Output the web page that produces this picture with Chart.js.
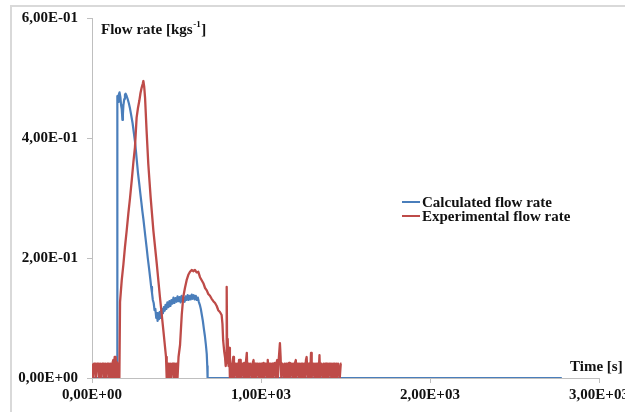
<!DOCTYPE html>
<html>
<head>
<meta charset="utf-8">
<script src="https://cdn.jsdelivr.net/npm/chart.js@4"></script>
<style>
html,body{margin:0;padding:0;overflow:hidden;background:#fff;width:625px;height:412px;}
#wrap{position:absolute;left:0;top:0;width:640px;height:412px;}
</style>
</head>
<body>
<div id="wrap"><canvas id="c" width="640" height="412"></canvas></div>
<script>
// ---- data ----
const seriesLabels = ['Calculated flow rate', 'Experimental flow rate'];
const yTickLabels = ['0,00E+00', '2,00E-01', '4,00E-01', '6,00E-01'];
const xTickLabels = ['0,00E+00', '1,00E+03', '2,00E+03', '3,00E+03'];
const yAxisTitle = 'Flow rate [kgs';
const yAxisTitleSup = '-1';
const xAxisTitle = 'Time [s]';

const calcTime = [0,148,150,154,158,163,168,172,176,180,183,186,191,195,199,205,211,218,225,232,240,247,254,260,266,272,279,285,292,298,304,310,316,323,330,338,345,350,355,360,365,370,375,380,385,388,392,396,400,404,408,412,416,420,425,430,435,440,446,452,458,464,470,476,482,488,494,500,506,512,518,524,530,536,542,548,554,560,566,572,578,584,590,596,602,608,614,620,626,632,638,644,650,656,662,668,674,679,682,684,2780];
const calcFlow = [0,0,0.47,0.46,0.472,0.476,0.468,0.455,0.448,0.43,0.44,0.455,0.465,0.472,0.474,0.47,0.465,0.458,0.449,0.438,0.425,0.41,0.395,0.378,0.36,0.342,0.325,0.31,0.293,0.278,0.265,0.25,0.235,0.218,0.2,0.182,0.165,0.152,0.142,0.13,0.125,0.113,0.115,0.1,0.108,0.095,0.106,0.098,0.11,0.1,0.112,0.104,0.115,0.108,0.118,0.112,0.122,0.115,0.126,0.118,0.128,0.12,0.13,0.124,0.134,0.125,0.133,0.127,0.136,0.128,0.135,0.126,0.137,0.128,0.134,0.127,0.136,0.13,0.138,0.13,0.137,0.131,0.139,0.132,0.138,0.131,0.137,0.13,0.134,0.127,0.122,0.115,0.105,0.095,0.082,0.07,0.055,0.04,0.02,0,0];

const expTime = [0,8,12,20,24,30,38,42,48,56,60,68,72,78,86,90,98,102,108,116,120,126,130,134,140,144,148,154,158,162,166,176,186,195,205,215,225,235,245,254,264,272,280,287,294,300,304,309,314,323,333,347,363,383,402,422,438,442,446,452,456,462,468,474,480,484,490,496,500,506,512,521,531,540,550,560,570,580,590,599,609,619,629,639,649,659,669,679,688,698,708,718,728,738,747,757,767,772,776,782,787,791,794,797,800,803,808,812,816,820,826,830,836,840,846,850,856,860,866,870,876,880,886,890,896,900,906,910,916,920,926,930,936,940,946,950,956,960,966,970,976,980,986,990,996,1000,1006,1010,1016,1020,1026,1030,1036,1040,1046,1050,1056,1060,1066,1070,1076,1080,1086,1090,1096,1100,1106,1112,1116,1120,1126,1130,1136,1140,1146,1150,1156,1160,1166,1170,1176,1180,1186,1190,1196,1200,1206,1210,1216,1220,1226,1230,1236,1240,1246,1250,1256,1260,1266,1270,1276,1280,1286,1290,1296,1300,1306,1310,1316,1320,1326,1330,1336,1340,1346,1350,1356,1360,1366,1370,1376,1380,1386,1390,1396,1400,1406,1410,1416,1420,1426,1430,1436,1440,1446,1450,1456,1460,1466,1472,1476];
const expFlow = [0.024,0,0.024,0.024,0,0.024,0.024,0,0.024,0,0.024,0.024,0,0.024,0,0.024,0.024,0,0.024,0,0.024,0.03,0,0.035,0.035,0,0.026,0,0.024,0,0.127,0.163,0.19,0.218,0.245,0.274,0.3,0.329,0.36,0.384,0.434,0.45,0.462,0.475,0.484,0.49,0.495,0.485,0.467,0.412,0.357,0.301,0.246,0.191,0.135,0.08,0.035,0,0.024,0.024,0,0.024,0,0.024,0.024,0,0.024,0,0.024,0,0.035,0.055,0.105,0.135,0.15,0.163,0.172,0.177,0.18,0.178,0.18,0.176,0.177,0.168,0.163,0.158,0.15,0.146,0.14,0.137,0.132,0.128,0.125,0.12,0.113,0.11,0.105,0.09,0.063,0.045,0.035,0.02,0.025,0.152,0.03,0.065,0.02,0.05,0,0.024,0,0.024,0.035,0,0.024,0.024,0,0.024,0,0.03,0.03,0,0.024,0.024,0,0.025,0,0.024,0.042,0,0.024,0,0.024,0.024,0,0.024,0.03,0,0.024,0,0.024,0.024,0,0.024,0,0.024,0.024,0,0.025,0,0.024,0.024,0,0.03,0,0.024,0.024,0,0.024,0,0.024,0.025,0,0.024,0.03,0,0.035,0.058,0.035,0,0.024,0.024,0,0.024,0,0.024,0.024,0,0.025,0,0.024,0.024,0,0.024,0,0.024,0.03,0,0.024,0.024,0,0.024,0,0.024,0.024,0,0.024,0,0.03,0.035,0,0.024,0.024,0,0.042,0,0.024,0.024,0,0.024,0,0.024,0.024,0,0.038,0,0.024,0.024,0,0.024,0,0.024,0.024,0,0.024,0,0.024,0.024,0,0.024,0,0.024,0.024,0,0.024,0,0.024,0.024,0,0.024,0.024];

const colors = ['#4a7ebb', '#be4b48'];
// ----------------------------------------------

function pts(xs, ys) { return xs.map((x, i) => ({x: x, y: ys[i]})); }

const FONT = "'Liberation Serif', 'Times New Roman', serif";
const AXIS = '#bfbfbf';

const framePlugin = {
  id: 'frame',
  beforeDraw(chart) {
    const ctx = chart.ctx;
    ctx.save();
    ctx.fillStyle = '#ffffff';
    ctx.fillRect(0, 0, chart.width, chart.height);
    ctx.strokeStyle = '#d9d9d9';
    ctx.lineWidth = 2;
    ctx.beginPath();
    ctx.moveTo(11, chart.height);
    ctx.lineTo(11, 6);
    ctx.lineTo(chart.width, 6);
    ctx.stroke();
    ctx.restore();
  }
};

const textPlugin = {
  id: 'texts',
  afterDraw(chart) {
    const ctx = chart.ctx;
    const a = chart.chartArea;
    ctx.save();
    ctx.fillStyle = '#111';
    ctx.textBaseline = 'middle';
    ctx.textAlign = 'left';
    // y axis title
    ctx.font = 'bold 15px ' + FONT;
    let x = a.left + 9, y = 30;
    ctx.fillText(yAxisTitle, x, y);
    x += ctx.measureText(yAxisTitle).width;
    ctx.font = 'bold 9px ' + FONT;
    ctx.fillText(yAxisTitleSup, x + 0.5, y - 5);
    x += ctx.measureText(yAxisTitleSup).width + 1;
    ctx.font = 'bold 15px ' + FONT;
    ctx.fillText(']', x, y);
    // x axis title
    ctx.fillText(xAxisTitle, a.right - 29, 367);
    // legend
    ctx.font = 'bold 15px ' + FONT;
    const rows = [202, 216];
    chart.data.datasets.forEach((ds, i) => {
      ctx.strokeStyle = ds.borderColor;
      ctx.lineWidth = 2;
      ctx.beginPath();
      ctx.moveTo(402, rows[i]);
      ctx.lineTo(420, rows[i]);
      ctx.stroke();
      ctx.fillStyle = '#111';
      ctx.fillText(ds.label, 422, rows[i] + 1);
    });
    ctx.restore();
  }
};

new Chart(document.getElementById('c'), {
  type: 'line',
  data: {
    datasets: [
      { label: seriesLabels[0], data: pts(calcTime, calcFlow), borderColor: colors[0], backgroundColor: colors[0], borderWidth: 2.2, pointRadius: 0, tension: 0, order: 1, borderJoinStyle: 'round' },
      { label: seriesLabels[1], data: pts(expTime, expFlow), borderColor: colors[1], backgroundColor: colors[1], borderWidth: 2.3, pointRadius: 0, tension: 0, order: 0, borderJoinStyle: 'round' }
    ]
  },
  options: {
    responsive: false,
    animation: false,
    events: [],
    layout: { padding: { left: 0, right: 41, top: 17, bottom: 0 } },
    plugins: { legend: { display: false }, tooltip: { enabled: false }, title: { display: false } },
    scales: {
      x: {
        type: 'linear', min: 0, max: 3000,
        afterFit(s) { s.height = 34; },
        border: { display: true, color: AXIS, width: 1 },
        grid: { drawOnChartArea: false, drawTicks: true, tickLength: 5, color: AXIS },
        ticks: { stepSize: 1000, maxRotation: 0, autoSkip: false, padding: 3, color: '#111',
          font: { family: FONT, size: 15, weight: 'bold' },
          callback: (v, i) => xTickLabels[i] }
      },
      y: {
        type: 'linear', min: 0, max: 0.6,
        afterFit(s) { s.width = 92; },
        border: { display: true, color: AXIS, width: 1 },
        grid: { drawOnChartArea: false, drawTicks: true, tickLength: 5, color: AXIS },
        ticks: { stepSize: 0.2, padding: 9, color: '#111',
          font: { family: FONT, size: 15, weight: 'bold' },
          callback: (v, i) => yTickLabels[i] }
      }
    }
  },
  plugins: [framePlugin, textPlugin]
});
</script>
</body>
</html>
